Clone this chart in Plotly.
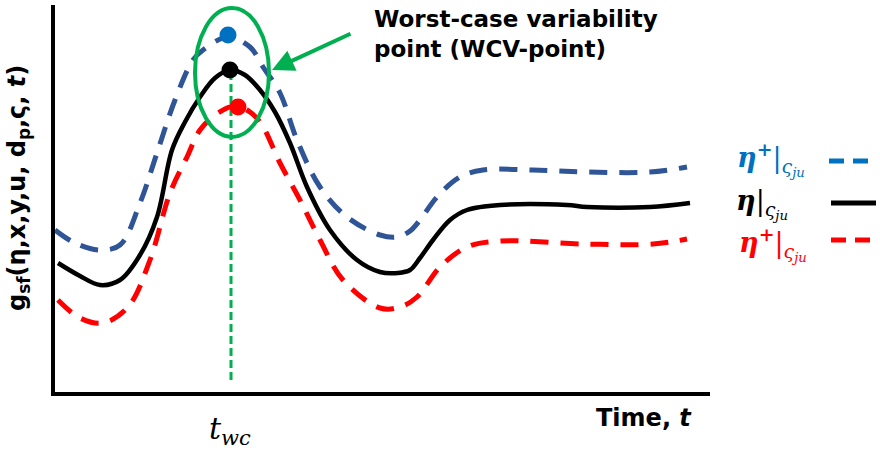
import plotly.graph_objects as go

# ---- data (time, value) ----
t_nom = [3, 25, 45, 65, 85, 102, 117, 130, 145, 160, 175, 190, 205, 220, 235, 252, 275, 302, 325, 343, 355, 365, 378, 395, 412, 445, 512, 532, 595, 635]
g_nom = [129, 116, 107, 112, 137, 175, 242, 270, 295, 314, 322, 317, 302, 280, 249, 205, 162, 132, 120, 119, 122, 134, 152, 172, 182, 187, 187, 185, 185, 189]

t_up = [0, 20, 45, 65, 85, 102, 120, 138, 148, 173, 195, 208, 225, 242, 265, 292, 325, 342, 355, 365, 382, 405, 428, 478, 532, 595, 632]
g_up = [162, 149, 142, 147, 189, 239, 292, 332, 342, 355, 345, 325, 299, 252, 205, 175, 157, 155, 161, 172, 195, 215, 222, 222, 220, 220, 225]

t_lo = [3, 25, 48, 73, 95, 115, 132, 145, 163, 180, 195, 207, 225, 245, 265, 288, 325, 345, 362, 385, 412, 445, 528, 598, 632]
g_lo = [92, 74, 69, 85, 132, 199, 235, 262, 279, 286, 280, 267, 229, 192, 152, 112, 84, 85, 95, 125, 145, 151, 148, 148, 153]

t_wc = 176
wcv_t = [173, 175, 183]
wcv_g = [357, 322, 285]
wcv_colors = ["#0070c0", "#000000", "#ff0000"]

X_RANGE = [0, 655]
Y_RANGE = [0, 387]

# pixel -> paper helpers (plot area: x 55..710, y 5..392)
def px(x):
    return (x - 55) / 655.0

def py(y):
    return (392 - y) / 387.0

fig = go.Figure()
fig.add_trace(go.Scatter(x=t_up, y=g_up, mode="lines", line=dict(color="#2f5597", width=5, dash="18px,12px", shape="spline"), hoverinfo="skip"))
fig.add_trace(go.Scatter(x=t_nom, y=g_nom, mode="lines", line=dict(color="#000000", width=4.5, shape="spline"), hoverinfo="skip"))
fig.add_trace(go.Scatter(x=t_lo, y=g_lo, mode="lines", line=dict(color="#ff0000", width=5, dash="18px,12px", shape="spline"), hoverinfo="skip"))
fig.add_trace(go.Scatter(x=[t_wc, t_wc], y=[12, wcv_g[1]], mode="lines", line=dict(color="#00b050", width=3, dash="8px,4px"), hoverinfo="skip"))
fig.add_trace(go.Scatter(x=wcv_t, y=wcv_g, mode="markers", marker=dict(color=wcv_colors, size=17), hoverinfo="skip"))

shapes = [
    dict(type="circle", xref="x", yref="y", x0=140, x1=214, y0=255, y1=384, line=dict(color="#00b050", width=4)),
    dict(type="line", xref="paper", yref="paper", x0=px(829), x1=px(876), y0=py(161), y1=py(161), line=dict(color="#0070c0", width=5, dash="15px,9px")),
    dict(type="line", xref="paper", yref="paper", x0=px(831), x1=px(876), y0=py(203), y1=py(203), line=dict(color="#000000", width=5)),
    dict(type="line", xref="paper", yref="paper", x0=px(831), x1=px(876), y0=py(240), y1=py(240), line=dict(color="#ff0000", width=5, dash="15px,9px")),
]

annotations = [
    dict(x=217, y=322, xref="x", yref="y", ax=297, ay=359, axref="x", ayref="y", text="", showarrow=True,
         arrowhead=2, arrowsize=1.1, arrowwidth=4, arrowcolor="#00b050"),
    dict(x=px(372), y=py(34), xref="paper", yref="paper", xanchor="left", yanchor="middle", align="left",
         text="<b>Worst-case variability<br>point (WCV-point)</b>", showarrow=False,
         font=dict(family="DejaVu Sans", size=23, color="#000000")),
    dict(x=px(19), y=py(188), xref="paper", yref="paper", xanchor="center", yanchor="middle", textangle=-90,
         text="<b>g<sub>sf</sub>(η,x,y,u, d<sub>p</sub>,ς, <i>t</i>)</b>", showarrow=False,
         font=dict(family="DejaVu Sans", size=24, color="#000000")),
    dict(x=px(230), y=py(430), xref="paper", yref="paper", xanchor="center", yanchor="middle",
         text="<i>t</i><sub><i>wc</i></sub>", showarrow=False,
         font=dict(family="DejaVu Serif", size=30, color="#000000")),
    dict(x=px(644), y=py(418), xref="paper", yref="paper", xanchor="center", yanchor="middle",
         text="<b>Time, <i>t</i></b>", showarrow=False,
         font=dict(family="DejaVu Sans", size=24, color="#000000")),
    dict(x=px(771), y=py(159), xref="paper", yref="paper", xanchor="center", yanchor="middle",
         text="<b><i>η</i><sup>+</sup></b>|<sub><i>ς<sub>ju</sub></i></sub>", showarrow=False,
         font=dict(family="DejaVu Serif", size=27, color="#0070c0")),
    dict(x=px(762), y=py(204), xref="paper", yref="paper", xanchor="center", yanchor="middle",
         text="<b><i>η</i></b>|<sub><i>ς<sub>ju</sub></i></sub>", showarrow=False,
         font=dict(family="DejaVu Serif", size=27, color="#000000")),
    dict(x=px(773), y=py(244), xref="paper", yref="paper", xanchor="center", yanchor="middle",
         text="<b><i>η</i><sup>+</sup></b>|<sub><i>ς<sub>ju</sub></i></sub>", showarrow=False,
         font=dict(family="DejaVu Serif", size=27, color="#ff0000")),
]

fig.update_layout(
    width=880, height=451,
    margin=dict(l=55, r=170, t=5, b=59),
    paper_bgcolor="white", plot_bgcolor="white",
    showlegend=False,
    shapes=shapes, annotations=annotations,
    xaxis=dict(range=X_RANGE, showline=True, linecolor="black", linewidth=4, showgrid=False,
               zeroline=False, showticklabels=False, ticks="", fixedrange=True),
    yaxis=dict(range=Y_RANGE, showline=True, linecolor="black", linewidth=4, showgrid=False,
               zeroline=False, showticklabels=False, ticks="", fixedrange=True),
)

fig.write_html("out.html")
